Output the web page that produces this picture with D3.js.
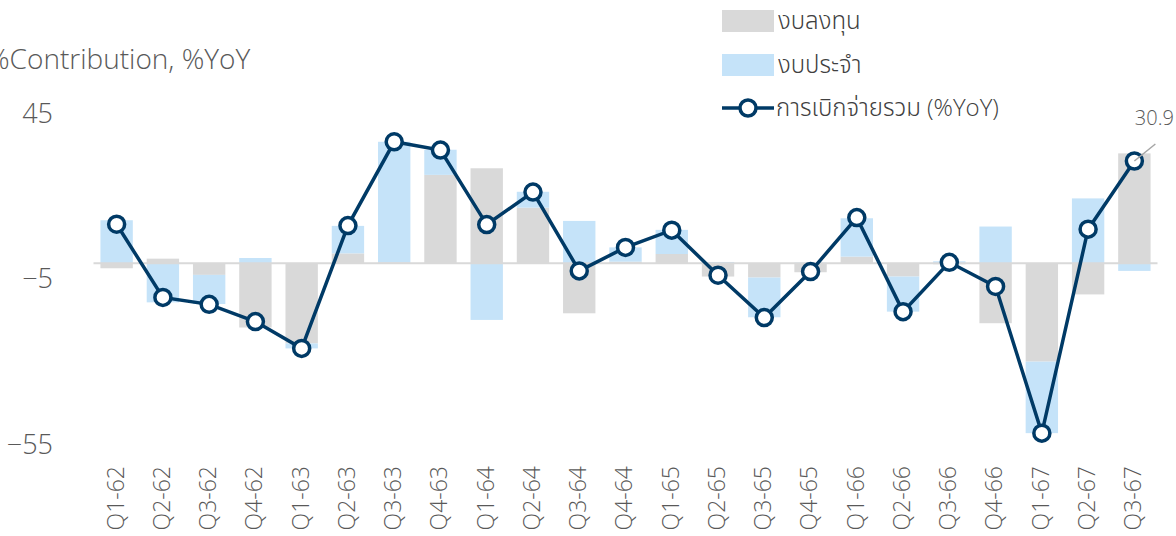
<!DOCTYPE html>
<html lang="th">
<head>
<meta charset="UTF-8">
<script src="https://d3js.org/d3.v7.min.js"></script>
<style>
    body { margin: 0; background: #fff; }
    svg text { font-family: "Open Sans", "Noto Sans Thai", "Noto Sans", sans-serif; font-weight: 300; fill: #595959; }
</style>
</head>
<body>
<svg id="chart" width="1176" height="536"></svg>
<script>
    // quarters (Thai fiscal years)
    var categories = ["Q1-62","Q2-62","Q3-62","Q4-62","Q1-63","Q2-63","Q3-63","Q4-63",
        "Q1-64","Q2-64","Q3-64","Q4-64","Q1-65","Q2-65","Q3-65","Q4-65",
        "Q1-66","Q2-66","Q3-66","Q4-66","Q1-67","Q2-67","Q3-67"];
    // งบลงทุน contribution
    var capital = [-1.5, 1.4, -3.5, -19.4, -24.2, 3.0, 0.3, 26.7, 28.7, 16.8, -15.1, 0.5,
        2.8, -4.0, -4.3, -2.7, 2.0, -4.0, -0.3, -18.1, -29.7, -9.4, 33.2];
    // งบประจำ contribution
    var current = [13.0, -11.8, -8.8, 1.6, -1.5, 8.3, 36.4, 7.6, -17.1, 4.8, 12.8, 4.3,
        7.3, 0.4, -12.0, 0.2, 11.6, -10.6, 0.6, 11.1, -21.6, 19.6, -2.3];
    // การเบิกจ่ายรวม (%YoY)
    var total = [11.8, -10.3, -12.4, -17.6, -25.7, 11.4, 36.7, 34.2, 11.7, 21.5, -2.3, 4.8,
        10.0, -3.6, -16.4, -2.5, 13.8, -14.6, 0.3, -7.0, -51.3, 10.3, 30.9];
    var yTicks = [45, -5, -55];

    var seriesNames = ["งบลงทุน", "งบประจำ"];
    var colors = {"งบลงทุน": "#d9d9d9", "งบประจำ": "#c5e3f9"};
    var lineColor = "#003a66";

    var svg = d3.select("#chart");

    var x = d3.scaleBand().domain(categories).range([93.5, 1157.5]).paddingInner(0.3).paddingOuter(0.15);
    var y = d3.scaleLinear().domain([-55, 45]).range([445.4, 114.3]);

    var rows = categories.map(function(c, i) {
        return {cat: c, "งบลงทุน": capital[i], "งบประจำ": current[i]};
    });
    var stacked = d3.stack().keys(seriesNames).offset(d3.stackOffsetDiverging)(rows);

    svg.append("g").selectAll("g")
        .data(stacked).enter().append("g")
        .attr("fill", function(d) { return colors[d.key]; })
        .selectAll("rect")
        .data(function(d) { return d; }).enter().append("rect")
        .attr("x", function(d) { return x(d.data.cat); })
        .attr("width", x.bandwidth())
        .attr("y", function(d) { return y(Math.max(d[0], d[1])); })
        .attr("height", function(d) { return Math.abs(y(d[0]) - y(d[1])); });

    // category axis line at zero
    svg.append("line")
        .attr("x1", x.range()[0]).attr("x2", x.range()[1])
        .attr("y1", y(0)).attr("y2", y(0))
        .attr("stroke", "#d9d9d9").attr("stroke-width", 2);

    // y axis
    var yAxis = svg.append("g")
        .attr("transform", "translate(62,0)")
        .call(d3.axisLeft(y).tickValues(yTicks).tickSize(0).tickPadding(9).tickFormat(d3.format("d")));
    yAxis.select(".domain").remove();
    yAxis.selectAll("text").style("font-size", "27px").attr("dy", "0.3em");

    // x labels
    var xAxis = svg.append("g")
        .attr("transform", "translate(0," + 466 + ")")
        .call(d3.axisBottom(x).tickSize(0).tickPadding(0));
    xAxis.select(".domain").remove();
    xAxis.selectAll("text")
        .style("font-size", "23px")
        .attr("text-anchor", "end")
        .attr("transform", "rotate(-90)")
        .attr("x", 0).attr("y", 0).attr("dy", "0.3em");

    // total line
    var cx = function(d, i) { return x(categories[i]) + x.bandwidth() / 2; };
    var line = d3.line().x(cx).y(function(d) { return y(d); });
    svg.append("path")
        .datum(total)
        .attr("d", line)
        .attr("fill", "none")
        .attr("stroke", lineColor)
        .attr("stroke-width", 3.5);
    svg.append("g").selectAll("circle")
        .data(total).enter().append("circle")
        .attr("cx", cx)
        .attr("cy", function(d) { return y(d); })
        .attr("r", 8)
        .attr("fill", "#fff")
        .attr("stroke", lineColor)
        .attr("stroke-width", 3.5);

    // last value label
    var lastX = cx(null, total.length - 1), lastY = y(total[total.length - 1]);
    svg.append("line")
        .attr("x1", lastX).attr("y1", lastY)
        .attr("x2", lastX + 21).attr("y2", lastY - 17)
        .attr("stroke", "#a6a6a6").attr("stroke-width", 1.5);
    svg.append("text")
        .attr("x", lastX + 20).attr("y", lastY - 36)
        .attr("text-anchor", "middle")
        .style("font-size", "20px")
        .text(d3.format(".1f")(total[total.length - 1]));

    // title
    svg.append("text")
        .attr("x", -13).attr("y", 69)
        .style("font-size", "28px")
        .text("%Contribution, %YoY");

    // legend
    var legend = svg.append("g").attr("transform", "translate(722,0)");
    seriesNames.forEach(function(name, i) {
        legend.append("rect")
            .attr("x", 0).attr("y", 10 + i * 44)
            .attr("width", 52).attr("height", 22)
            .attr("fill", colors[name]);
        legend.append("text")
            .attr("x", 56).attr("y", 21 + i * 44).attr("dy", "0.35em")
            .style("font-size", "24px").style("fill", "#404040")
            .text(name);
    });
    legend.append("line")
        .attr("x1", 0).attr("x2", 52).attr("y1", 108).attr("y2", 108)
        .attr("stroke", lineColor).attr("stroke-width", 3.5);
    legend.append("circle")
        .attr("cx", 26).attr("cy", 108).attr("r", 8)
        .attr("fill", "#fff").attr("stroke", lineColor).attr("stroke-width", 3.5);
    legend.append("text")
        .attr("x", 54).attr("y", 108).attr("dy", "0.35em")
        .style("font-size", "24px").style("fill", "#404040")
        .text("การเบิกจ่ายรวม (%YoY)");
</script>
</body>
</html>
